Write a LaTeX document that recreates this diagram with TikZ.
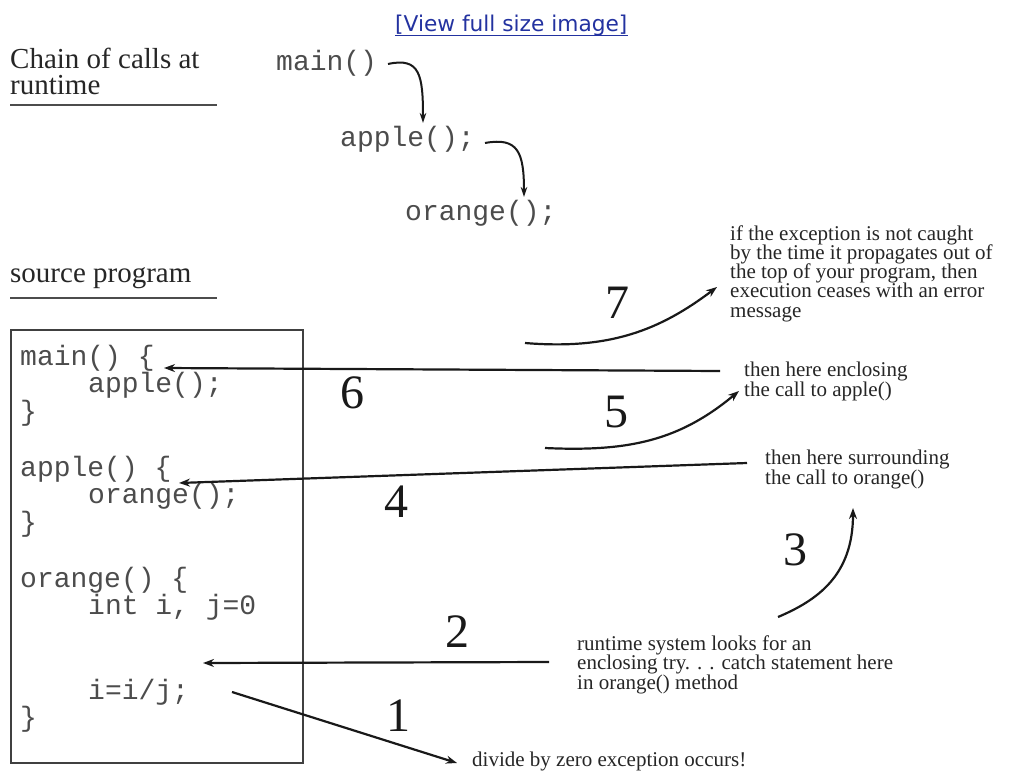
\documentclass[tikz,border=0pt]{standalone}
\usepackage{fontspec}
\setmainfont{Liberation Serif}
\setmonofont{Liberation Mono}
\newfontfamily\linkfont{DejaVu Sans}
\usetikzlibrary{arrows.meta}
\definecolor{linkblue}{RGB}{35,50,160}
\newcommand\tightlines{\lineskiplimit=-30pt\relax}
\begin{document}
\begin{tikzpicture}[x=1pt,y=-1pt,
  hdr/.style={font=\fontsize{29}{26.5}\selectfont\tightlines, text=black!85, inner sep=0pt, anchor=base west, align=left},
  code/.style={font=\ttfamily\fontsize{28}{28}\selectfont, text=black!70, inner sep=0pt, anchor=base west},
  note/.style={font=\fontsize{21}{19.2}\selectfont\tightlines, text=black!85, inner sep=0pt, anchor=base west, align=left},
  num/.style={font=\fontsize{48}{48}\selectfont, text=black!90, inner sep=0pt},
  arr/.style={line width=2.2pt, black!90, -{Stealth[length=11pt,width=8pt]}},
  carr/.style={line width=2pt, black!90, -{Stealth[length=10pt,width=6.5pt]}},
  rule/.style={line width=2pt, black!70},
]
\useasboundingbox[fill=white] (0,0) rectangle (1009,771);

% link
\node[font=\linkfont\fontsize{21.7}{21.7}\selectfont, text=linkblue, inner sep=0pt, anchor=base west] (link) at (395,31) {[View full size image]};
\draw[linkblue, line width=1pt] ([yshift=-4pt]link.base west) -- ([yshift=-4pt]link.base east);

% headers (base anchor = last line)
\node[hdr] (h1) at (10,94.5) {Chain of calls at\\runtime};
\draw[rule] (10,105) -- (217,105);
\node[hdr] (h2) at (10,282) {source program};
\draw[rule] (10,298) -- (217,298);

% chain of calls
\node[code] (cm) at (276,70) {main()};
\node[code] (ca) at (340,146) {apple();};
\node[code] (co) at (405,220) {orange();};
\coordinate (c1s) at (388,64);
\coordinate (c1e) at (423,123);
\coordinate (c2s) at (485,143);
\coordinate (c2e) at (524,197);
\draw[carr] (c1s) .. controls (420,57) and (423,75) .. (c1e);
\draw[carr] (c2s) .. controls (518,137) and (524,152) .. (c2e);

% source box
\draw[line width=2pt, black!75] (11,330) rectangle (303,763);
\node[code] (l0) at (20,365) {main() \{};
\node[code] (l1) at (88,392) {apple();};
\node[code] (l2) at (20,420) {\}};
\node[code] (l4) at (20,476) {apple() \{};
\node[code] (l5) at (88,503) {orange();};
\node[code] (l6) at (20,531) {\}};
\node[code] (l8) at (20,587) {orange() \{};
\node[code] (l9) at (88,614) {int i, j=0};
\node[code] (l12) at (88,699) {i=i/j;};
\node[code] (l13) at (20,726) {\}};

% notes (base anchor = last line)
\node[note] (t7) at (730,317) {if the exception is not caught\\by the time it propagates out of\\the top of your program, then\\execution ceases with an error\\message};
\node[note] (t6) at (744,396) {then here enclosing\\the call to apple()};
\node[note] (t4) at (765,484) {then here surrounding\\the call to orange()};
\node[note] (t2) at (577,689) {runtime system looks for an\\enclosing try. . . catch statement here\\in orange() method};
\node[note] (t1) at (472,766) {divide by zero exception occurs!};

% numbers
\node[num] (n7) at (617,303) {7};
\node[num] (n6) at (352,393) {6};
\node[num] (n5) at (616,412) {5};
\node[num] (n4) at (396,502) {4};
\node[num] (n3) at (795,550) {3};
\node[num] (n2) at (457,632) {2};
\node[num] (n1) at (398,716) {1};

% connectors
\coordinate (a1s) at (232,692);
\coordinate (a1e) at (457,763);
\coordinate (a2s) at (549,662);
\coordinate (a2e) at (203,663);
\coordinate (a3s) at (778,617);
\coordinate (a3e) at (853,508);
\coordinate (a4s) at (747,463);
\coordinate (a4e) at (179,483);
\coordinate (a5s) at (545,448);
\coordinate (a5e) at (739,391);
\coordinate (a6s) at (720,371);
\coordinate (a6e) at (164,368);
\coordinate (a7s) at (525,343);
\coordinate (a7e) at (717,287);

\draw[arr] (a1s) -- (a1e);
\draw[arr] (a2s) -- (a2e);
\draw[arr] (a3s) .. controls (818,600) and (853,575) .. (a3e);
\draw[arr] (a4s) -- (a4e);
\draw[arr] (a5s) .. controls (630,452) and (680,440) .. (a5e);
\draw[arr] (a6s) -- (a6e);
\draw[arr] (a7s) .. controls (610,350) and (660,330) .. (a7e);
\end{tikzpicture}
\end{document}
